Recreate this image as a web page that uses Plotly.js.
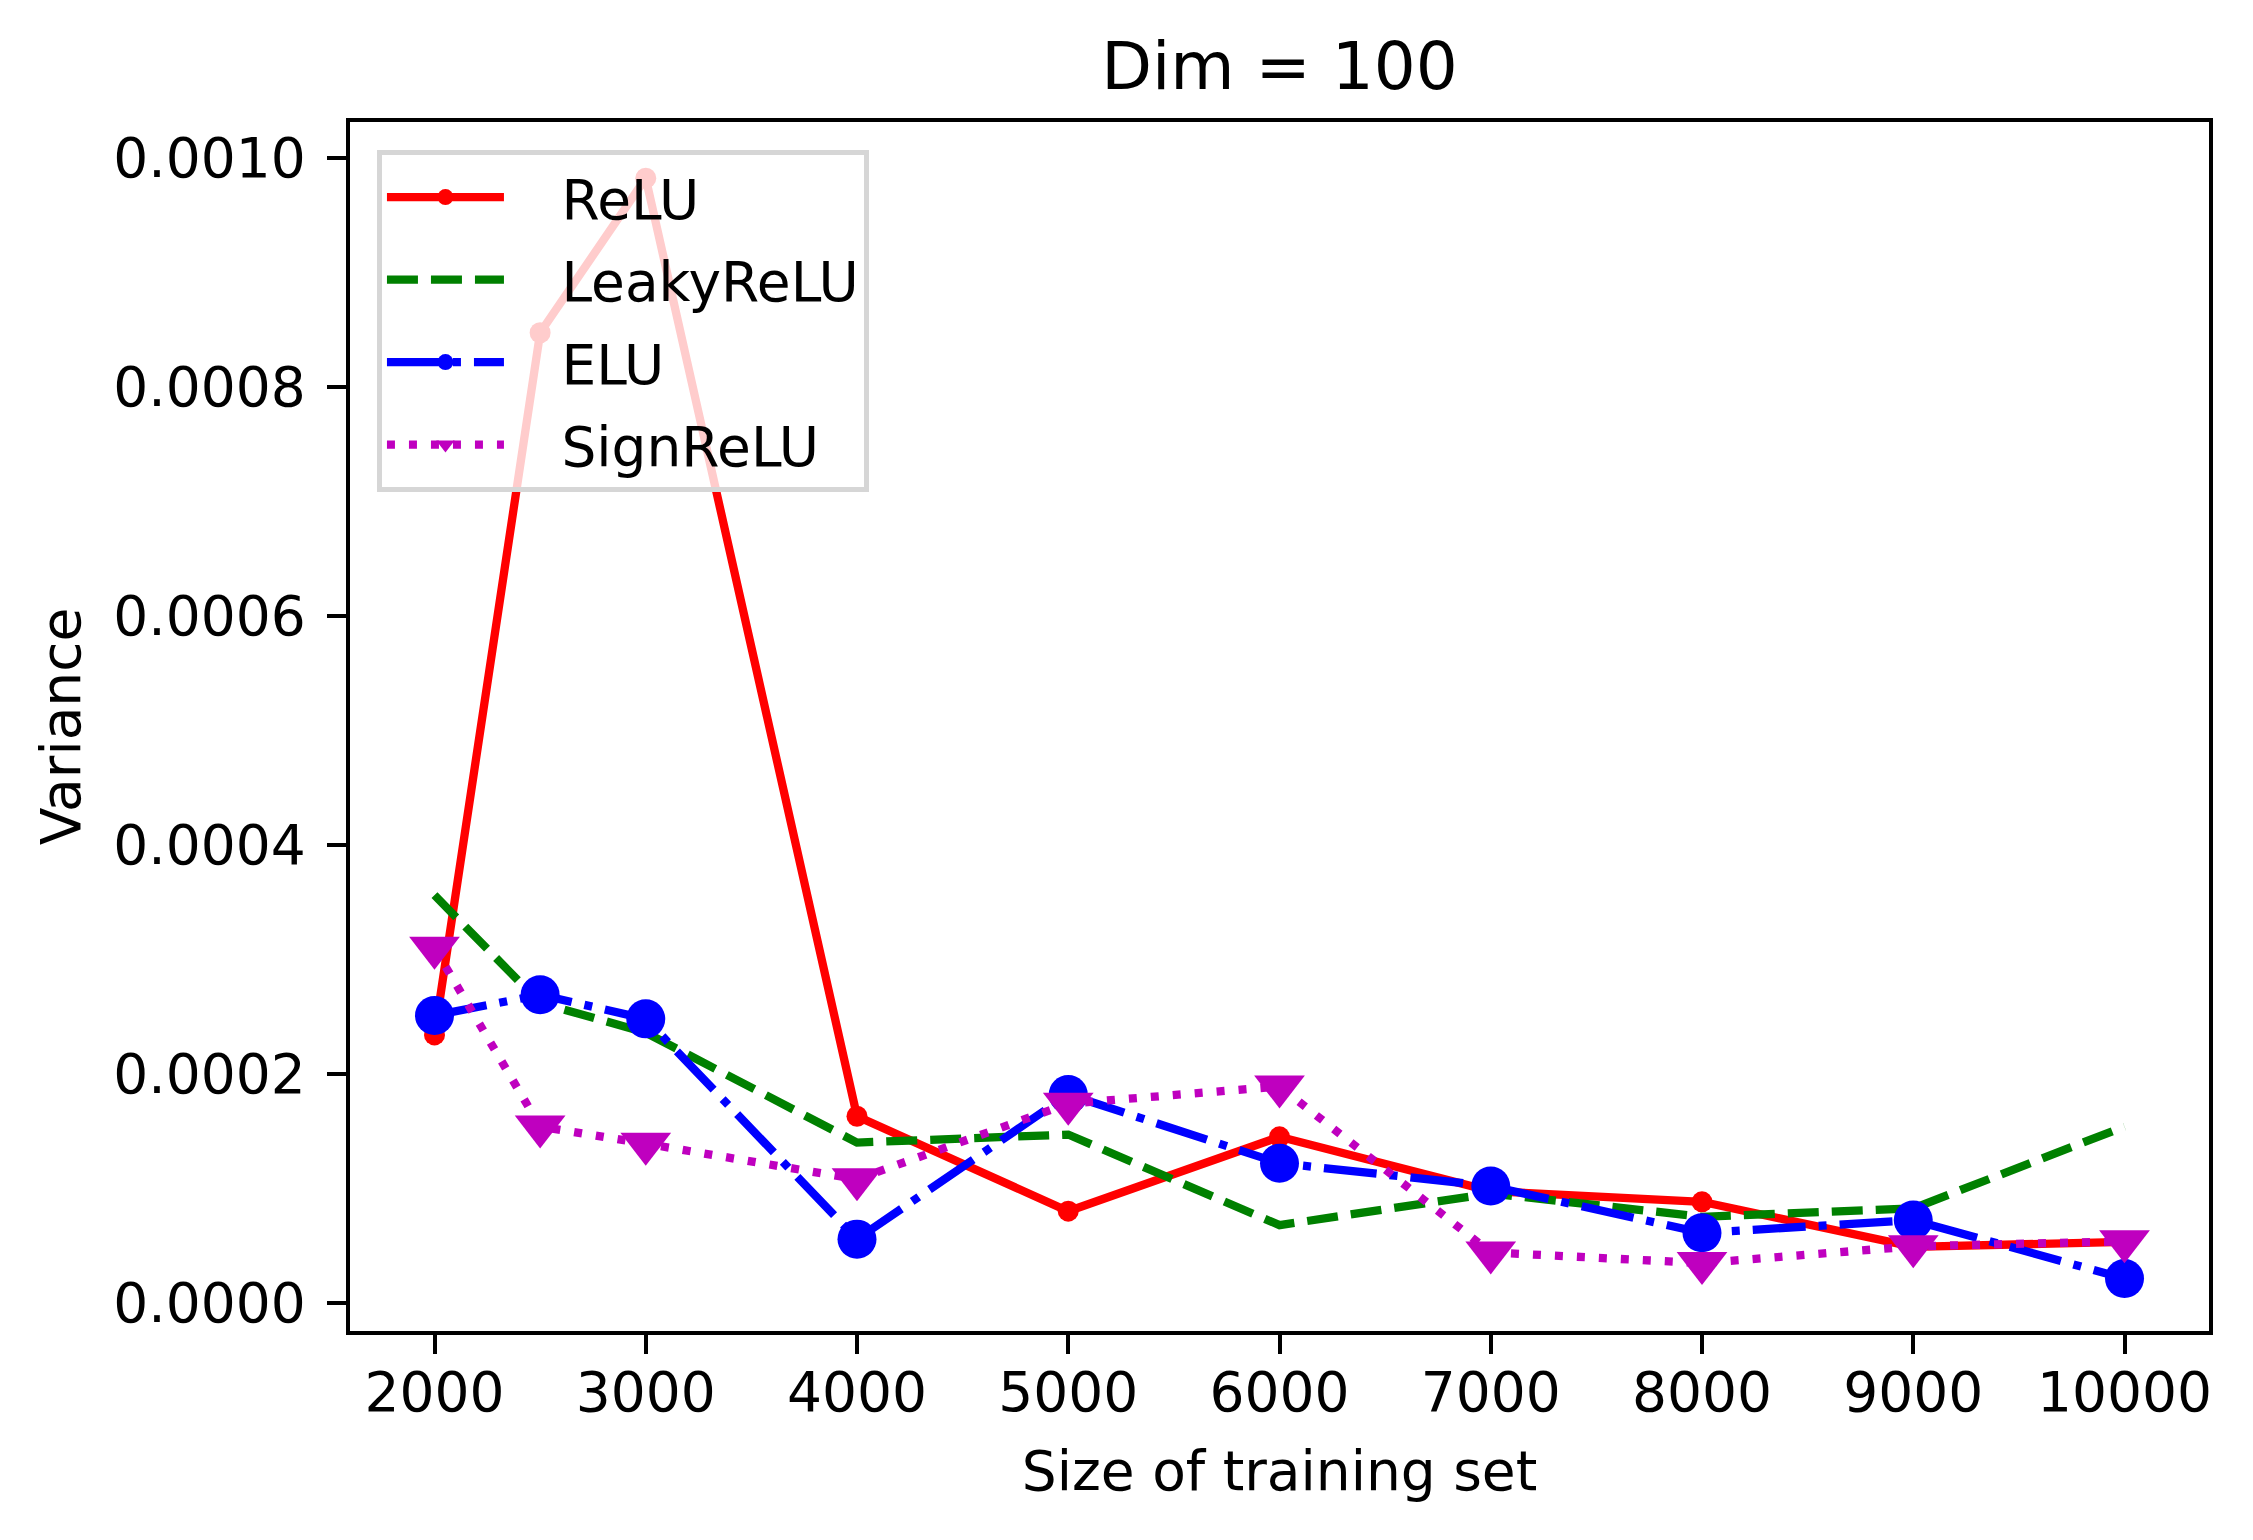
<!DOCTYPE html>
<html>
<head>
<meta charset="utf-8">
<script src="https://cdn.plot.ly/plotly-3.0.1.min.js"></script>
<style>
  html, body { margin: 0; padding: 0; background: #ffffff; }
  #chart { width: 2253px; height: 1540px; }
</style>
</head>
<body>
<div id="chart"></div>
<script>
// training set sizes
var sizes = [2000, 2500, 3000, 4000, 5000, 6000, 7000, 8000, 9000, 10000];

// variance per activation
var relu      = [0.000234, 0.000847, 0.000982, 0.000163, 0.0000801, 0.000145, 0.0000976, 0.0000883, 0.0000490, 0.0000533];
var leakyrelu = [0.000356, 0.000262, 0.000236, 0.000140, 0.000147, 0.0000679, 0.0000956, 0.0000752, 0.0000825, 0.000154];
var elu       = [0.000251, 0.000269, 0.000248, 0.0000557, 0.000182, 0.000122, 0.000102, 0.0000612, 0.0000723, 0.0000213];
var signrelu  = [0.000310, 0.000154, 0.000139, 0.000108, 0.000174, 0.000189, 0.0000441, 0.0000348, 0.0000494, 0.0000538];

var xTicks = [2000, 3000, 4000, 5000, 6000, 7000, 8000, 9000, 10000];
var yTicks = [0.0000, 0.0002, 0.0004, 0.0006, 0.0008, 0.0010];

var font = 'DejaVu Sans, sans-serif';
var lw = 8.3;
var pad = '\u00a0\u00a0\u00a0';   // gap between legend line and label

var ReLU = {
    x: sizes,
    y: relu,
    name: pad + 'ReLU',
    legendgroup: 'a',
    type: 'scatter',
    mode: 'lines+markers',
    line: { color: '#ff0000', width: lw },
    marker: { color: '#ff0000', size: 21, symbol: 'circle' }
};

var LeakyReLU = {
    x: sizes,
    y: leakyrelu,
    name: pad + 'LeakyReLU',
    legendgroup: 'b',
    type: 'scatter',
    mode: 'lines',
    line: { color: '#008000', width: lw, dash: '31px,13px' }
};

var ELU = {
    x: sizes,
    y: elu,
    name: pad + 'ELU',
    legendgroup: 'c',
    type: 'scatter',
    mode: 'lines+markers',
    line: { color: '#0000ff', width: lw, dash: '53px,13px,8px,13px' },
    marker: { color: '#0000ff', size: 39, symbol: 'circle' }
};

var SignReLU = {
    x: sizes,
    y: signrelu,
    name: pad + 'SignReLU',
    legendgroup: 'd',
    type: 'scatter',
    mode: 'lines+markers',
    line: { color: '#bf00bf', width: lw, dash: '8px,14px' },
    marker: { color: '#bf00bf', size: 44, symbol: 'triangle-down' }
};

var graphdata = [ReLU, LeakyReLU, ELU, SignReLU];

var layout = {
    width: 2253,
    height: 1540,
    paper_bgcolor: '#ffffff',
    plot_bgcolor: '#ffffff',
    font: { family: font, size: 55, color: '#000000' },
    margin: { l: 350, r: 44, t: 122, b: 209, pad: 0 },
    title: {
        text: 'Dim = 100',
        font: { family: font, size: 66, color: '#000000' },
        xref: 'paper',
        x: 0.5,
        xanchor: 'center',
        yref: 'container',
        y: 0.957,
        yanchor: 'middle'
    },
    showlegend: true,
    legend: {
        x: 0.0145,
        y: 0.977,
        xanchor: 'left',
        yanchor: 'top',
        bgcolor: 'rgba(255,255,255,0.8)',
        bordercolor: '#d6d6d6',
        borderwidth: 5,
        font: { family: font, size: 55, color: '#000000' },
        itemwidth: 117,
        tracegroupgap: 8
    },
    xaxis: {
        range: [1600, 10400],
        tickvals: xTicks,
        ticktext: xTicks.map(String),
        ticks: 'outside',
        ticklen: 19,
        tickwidth: 4.4,
        tickcolor: '#000000',
        ticklabelstandoff: -9,
        showline: true,
        linecolor: '#000000',
        linewidth: 4.4,
        mirror: true,
        showgrid: false,
        zeroline: false,
        title: { text: 'Size of training set', font: { family: font, size: 55 }, standoff: 29 }
    },
    yaxis: {
        range: [-0.0000245, 0.001031],
        tickvals: yTicks,
        tickformat: '.4f',
        ticks: 'outside',
        ticklen: 19,
        tickwidth: 4.4,
        tickcolor: '#000000',
        ticklabelstandoff: 10,
        showline: true,
        linecolor: '#000000',
        linewidth: 4.4,
        mirror: true,
        showgrid: false,
        zeroline: false,
        title: { text: 'Variance', font: { family: font, size: 55 }, standoff: 16 }
    }
};

Plotly.newPlot('chart', graphdata, layout, { displayModeBar: false });
</script>
</body>
</html>
